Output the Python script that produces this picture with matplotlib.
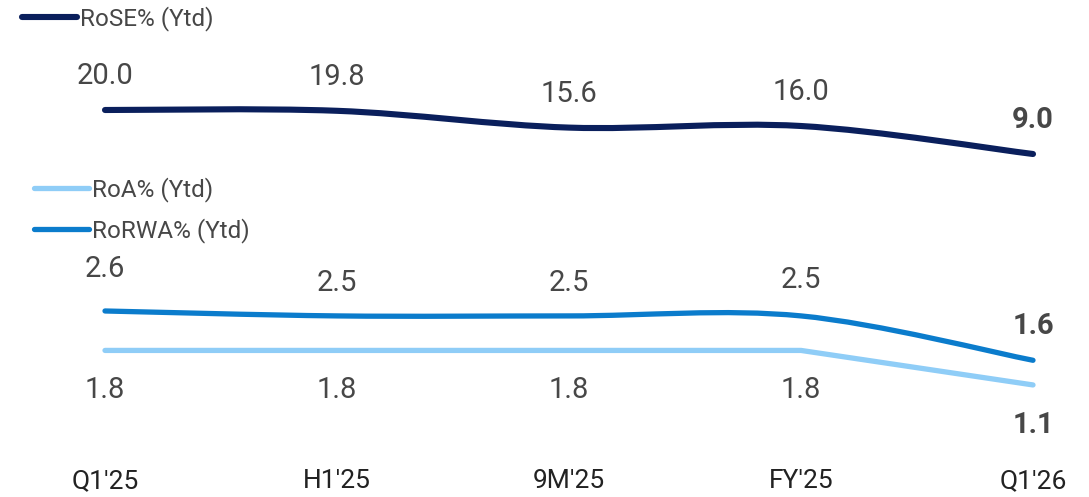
import matplotlib
matplotlib.use('Agg')
import matplotlib.pyplot as plt
import matplotlib.transforms as mtransforms
from matplotlib.path import Path
from matplotlib.patches import PathPatch
from matplotlib.lines import Line2D
import numpy as np

plt.rcParams['font.family'] = ['Roboto', 'DejaVu Sans']

periods = ["Q1'25", "H1'25", "9M'25", "FY'25", "Q1'26"]
rose = [20.0, 19.8, 15.6, 16.0, 9.0]
rorwa = [2.6, 2.5, 2.5, 2.5, 1.6]
roa = [1.8, 1.8, 1.8, 1.8, 1.1]

c_rose = '#0a1f5c'
c_rorwa = '#0b7ccc'
c_roa = '#8fcdf7'
c_text = '#474747'


def smooth_path(xs, ys):
    # Bezier segments through the points (same look as a "smoothed line")
    p = np.column_stack([xs, ys]).astype(float)
    ext = np.vstack([p[0], p, p[-1]])
    verts = [tuple(p[0])]
    codes = [Path.MOVETO]
    for i in range(len(p) - 1):
        p0, p1, p2, p3 = ext[i], ext[i + 1], ext[i + 2], ext[i + 3]
        c1 = p1 + (p2 - p0) / 6
        c2 = p2 - (p3 - p1) / 6
        verts += [tuple(c1), tuple(c2), tuple(p2)]
        codes += [Path.CURVE4] * 3
    return Path(verts, codes)


W, H = 1089, 497
fig = plt.figure(figsize=(W / 100, H / 100), dpi=100)
xlim = (-105 / 232, (W - 105) / 232)
ax1 = fig.add_axes([0, 1 - 180 / H, 1, 120 / H])
ax2 = fig.add_axes([0, 1 - 420 / H, 1, 160 / H])
ax1.set_ylim(2.5, 32.5)
ax2.set_ylim(0.389, 3.634)
for ax in (ax1, ax2):
    ax.set_xlim(*xlim)
    ax.axis('off')

x = np.arange(len(periods))

ax1.add_patch(PathPatch(smooth_path(x, rose), fill=False, edgecolor=c_rose,
                        lw=4.4, capstyle='round', joinstyle='round'))
ax2.add_patch(PathPatch(smooth_path(x, rorwa), fill=False, edgecolor=c_rorwa,
                        lw=3.8, capstyle='round', joinstyle='round'))
ax2.plot(x, roa, color=c_roa, lw=3.8, solid_capstyle='round')

# value labels
vfs = 21
for i, v in enumerate(rose):
    last = i == len(rose) - 1
    ax1.annotate(f'{v:.1f}', (x[i], v), xytext=(0, 24.5), textcoords='offset points',
                 ha='center', va='center', fontsize=vfs, color=c_text,
                 fontweight='bold' if last else 'normal')
rorwa_off = [30, 24, 24, 26, 25]
for i, v in enumerate(rorwa):
    last = i == len(rorwa) - 1
    ax2.annotate(f'{v:.1f}', (x[i], v), xytext=(0, rorwa_off[i]), textcoords='offset points',
                 ha='center', va='center', fontsize=vfs, color=c_text,
                 fontweight='bold' if last else 'normal')
for i, v in enumerate(roa):
    last = i == len(roa) - 1
    ax2.annotate(f'{v:.1f}', (x[i], v), xytext=(0, -28.5), textcoords='offset points',
                 ha='center', va='center', fontsize=vfs, color=c_text,
                 fontweight='bold' if last else 'normal')

# category labels
tr = mtransforms.blended_transform_factory(ax2.transData, fig.transFigure)
for i, p in enumerate(periods):
    ax2.text(x[i], 1 - 481 / H, p, transform=tr, ha='center', va='center',
             fontsize=19, color='#222222')

# legends
h_rose = Line2D([], [], color=c_rose, lw=4.4, solid_capstyle='round')
h_roa = Line2D([], [], color=c_roa, lw=3.8, solid_capstyle='round')
h_rorwa = Line2D([], [], color=c_rorwa, lw=3.8, solid_capstyle='round')
leg_kw = dict(loc='center left', frameon=False, handlelength=2.25,
              handletextpad=0.15, borderpad=0, borderaxespad=0, labelcolor=c_text,
              prop={'size': 17.5})
fig.legend([h_rose], ['RoSE% (Ytd)'], bbox_to_anchor=(22 / W, 1 - 19 / H), **leg_kw)
fig.legend([h_roa, h_rorwa], ['RoA% (Ytd)', 'RoRWA% (Ytd)'],
           bbox_to_anchor=(34 / W, 1 - 210 / H), labelspacing=0.68, **leg_kw)

fig.savefig('out.png', dpi=100)
